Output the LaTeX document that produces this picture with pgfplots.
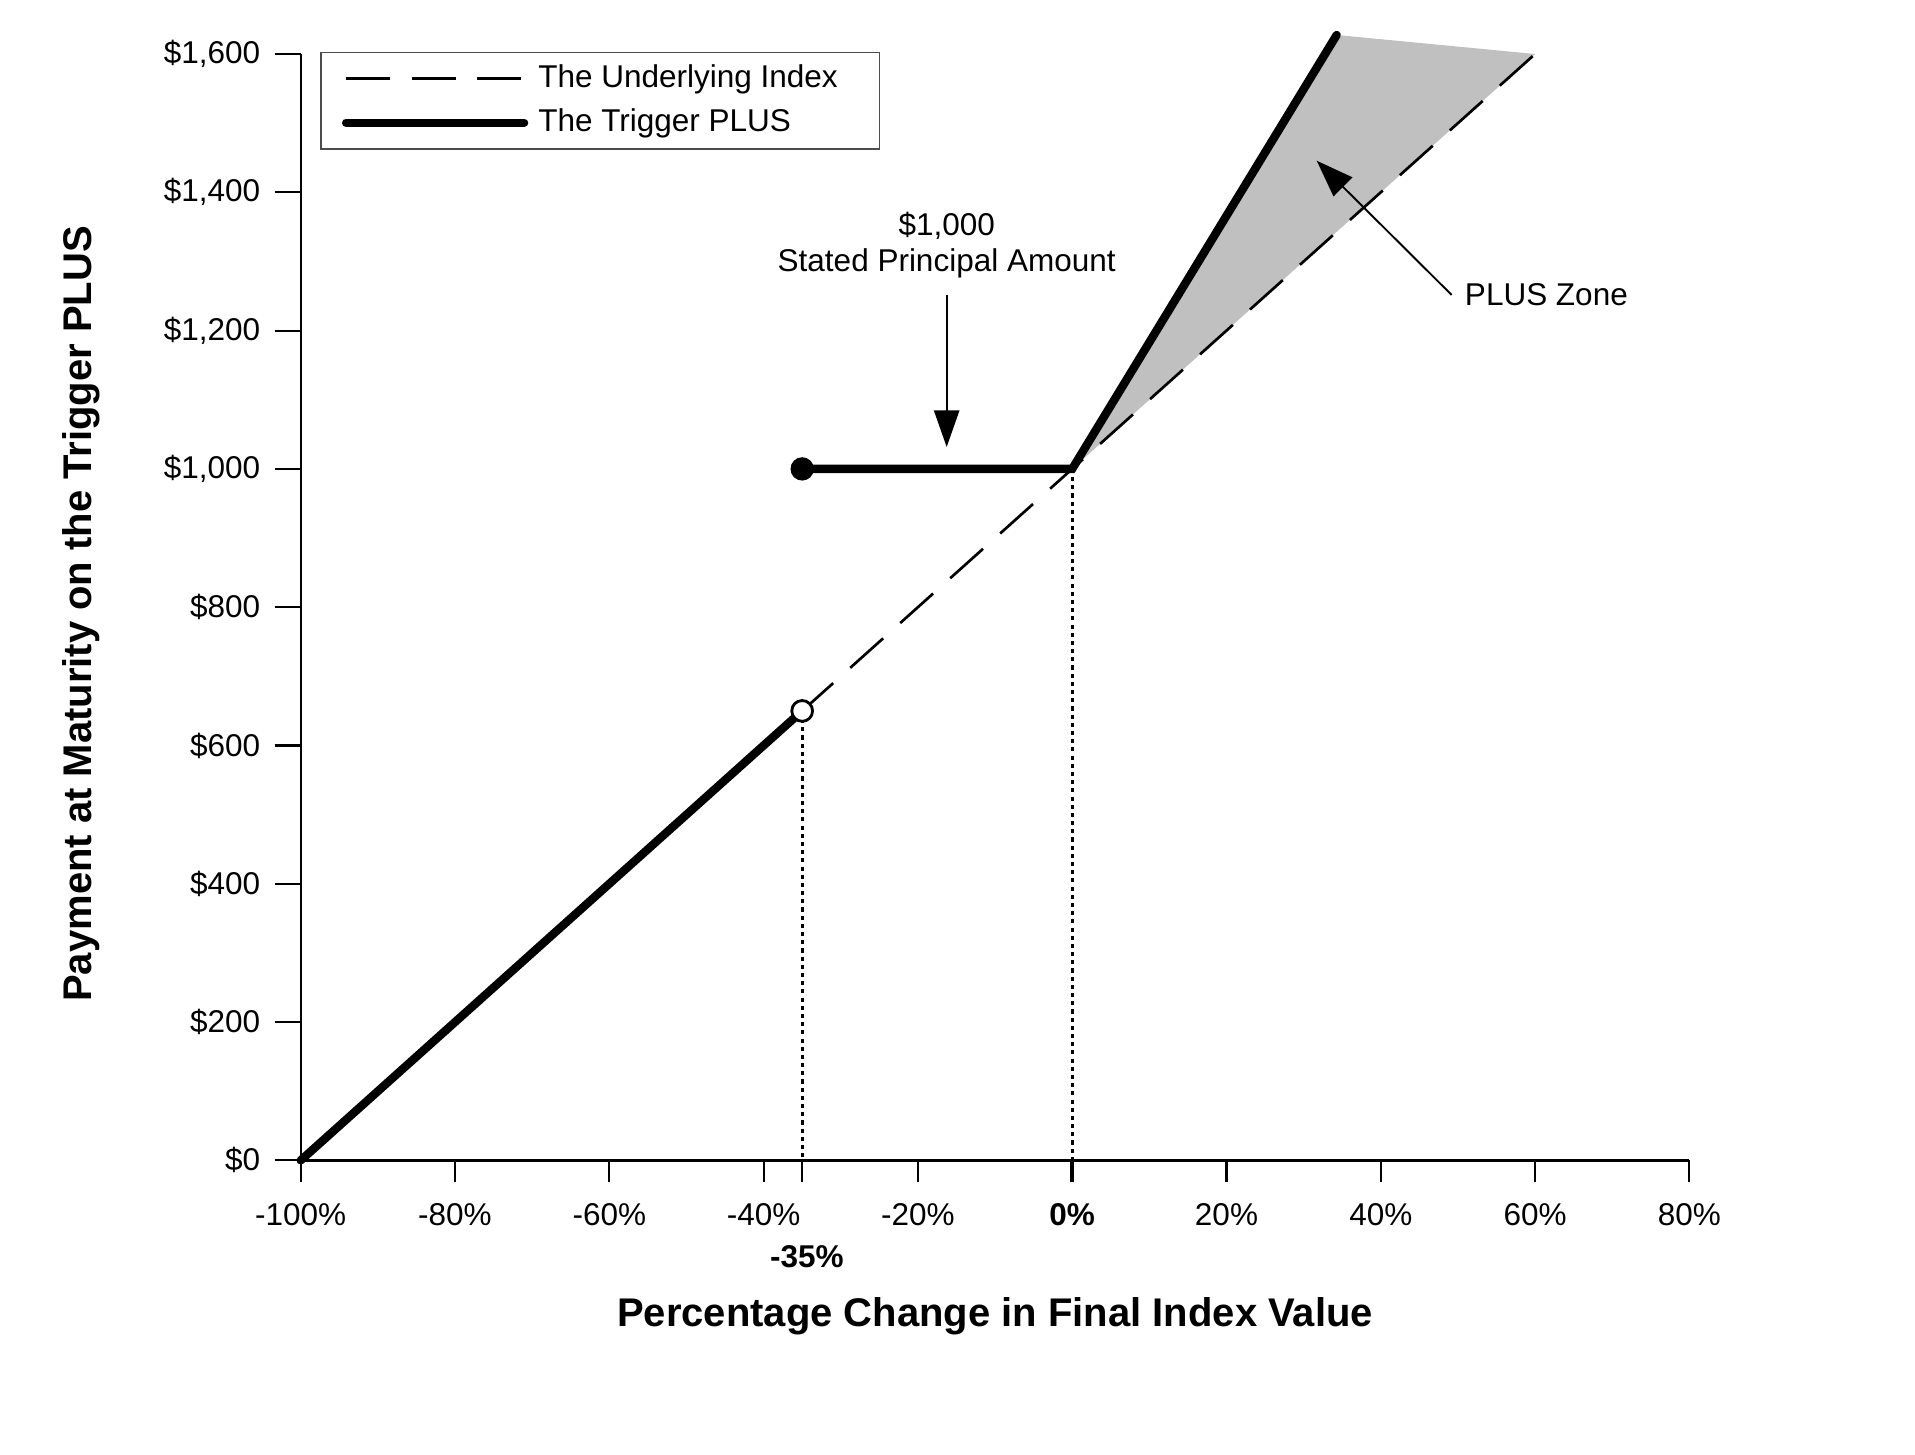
\documentclass[border=0pt]{standalone}
\usepackage{fontspec}
\setmainfont{Liberation Sans}
\usepackage{pgfplots}
\pgfplotsset{compat=1.18}
\usetikzlibrary{arrows.meta}
\definecolor{zonegray}{RGB}{192,192,192}
\begin{document}
\fontsize{10}{12}\selectfont
\begin{tikzpicture}
\useasboundingbox (-95.46pt,-93.21pt) rectangle (512.48pt,368.38pt);
\begin{axis}[
  scale only axis, width=440.86pt, height=351.24pt,
  xmin=-100, xmax=80, ymin=0, ymax=1600,
  axis x line*=bottom, axis y line*=left,
  x axis line style={line width=0.95pt},
  y axis line style={line width=0.65pt},
  tick align=outside,
  major tick length=8.25pt,
  tick style={line width=0.65pt, black},
  xtick style={/pgfplots/major tick length=6.7pt},
  xtick={-100,-80,-60,-40,-20,0,20,40,60,80},
  xticklabels={-100\%,-80\%,-60\%,-40\%,-20\%,\textbf{0\%},20\%,40\%,60\%,80\%},
  ytick={0,200,400,600,800,1000,1200,1400,1600},
  yticklabels={\$0,\$200,\$400,\$600,\$800,{\$1,000},{\$1,200},{\$1,400},{\$1,600}},
  tick label style={font=\fontsize{10}{12}\selectfont},
  xticklabel style={yshift=-1.9pt},
  yticklabel style={xshift=-1.1pt},
  extra x ticks={-35},
  extra x tick labels={\textbf{-35\%}},
  extra x tick style={xticklabel style={yshift=-13.2pt, xshift=1.5pt}},
  xlabel={\fontsize{12.7}{15}\selectfont\bfseries Percentage Change in Final Index Value},
  xlabel style={at={(axis description cs:0.5,0)}, anchor=base, yshift=-52.8pt, inner sep=0pt},
  ylabel={\fontsize{12.7}{15}\selectfont\bfseries Payment at Maturity on the Trigger PLUS},
  ylabel style={at={(axis description cs:-0.1504,0.494)}, anchor=base, inner sep=0pt},
  legend style={at={(axis description cs:0.01418,1.00216)}, anchor=north west,
    draw=black!70, line width=0.5pt, fill=white, inner xsep=6.6pt, inner ysep=2pt,
    row sep=1.2pt, font=\fontsize{10}{12}\selectfont, cells={anchor=west}},
  legend image code/.code={\draw[#1] (0pt,0pt) -- (56.5pt,0pt); \path (57.7pt,0pt);},
  clip=false,
]
\addlegendimage{black, line width=0.85pt, dash pattern=on 14pt off 6.8pt}
\addlegendentry{The Underlying Index\hspace*{4.7pt}\mbox{}}
\addlegendimage{black, line width=2.65pt, line cap=round}
\addlegendentry{The Trigger PLUS}

% PLUS zone
\addplot[fill=zonegray, draw=none, forget plot] coordinates {(0,1000) (34.28,1627.5) (60,1600)} -- cycle;
% underlying index
\addplot[black, line width=0.85pt, dash pattern=on 14pt off 7.3pt, forget plot] coordinates {(-100,0) (60,1600)};
% dotted guides
\addplot[black, line width=0.9pt, dash pattern=on 1.3pt off 1.3pt, forget plot] coordinates {(-35,650) (-35,0)};
\addplot[black, line width=0.9pt, dash pattern=on 1.3pt off 1.3pt, forget plot] coordinates {(0,1000) (0,0)};
% trigger plus
\addplot[black, line width=2.65pt, line cap=round, line join=round, forget plot] coordinates {(-100,0) (-35,650)};
\addplot[black, line width=2.65pt, line cap=round, line join=miter, forget plot] coordinates {(-35,1000) (0,1000) (34.28,1627.5)};
% markers
\addplot[only marks, mark=*, mark size=3.5pt, black, forget plot] coordinates {(-35,1000)};
\addplot[only marks, mark=*, mark size=3.3pt, mark options={fill=white, draw=black, line width=0.9pt}, forget plot] coordinates {(-35,650)};

\draw[line width=1.4pt] (axis cs:0,0) -- ++(0pt,-6.7pt);

\draw[line width=0.6pt, -{Triangle[length=11.6pt, width=8pt]}] (axis cs:-16.27,1251.5) -- (axis cs:-16.27,1031.7);
\draw[line width=0.6pt, -{Triangle[length=11.8pt, width=8.4pt]}] (axis cs:49.19,1251.5) -- (axis cs:31.69,1445.7);

\node[anchor=base, inner sep=0pt] at (axis cs:-16.27,1338.2) {\$1,000};
\node[anchor=base, inner sep=0pt] at (axis cs:-16.27,1285.2) {Stated Principal Amount};
\node[anchor=base west, inner sep=0pt] at (axis cs:50.83,1235.6) {PLUS Zone};
\end{axis}
\end{tikzpicture}
\end{document}
